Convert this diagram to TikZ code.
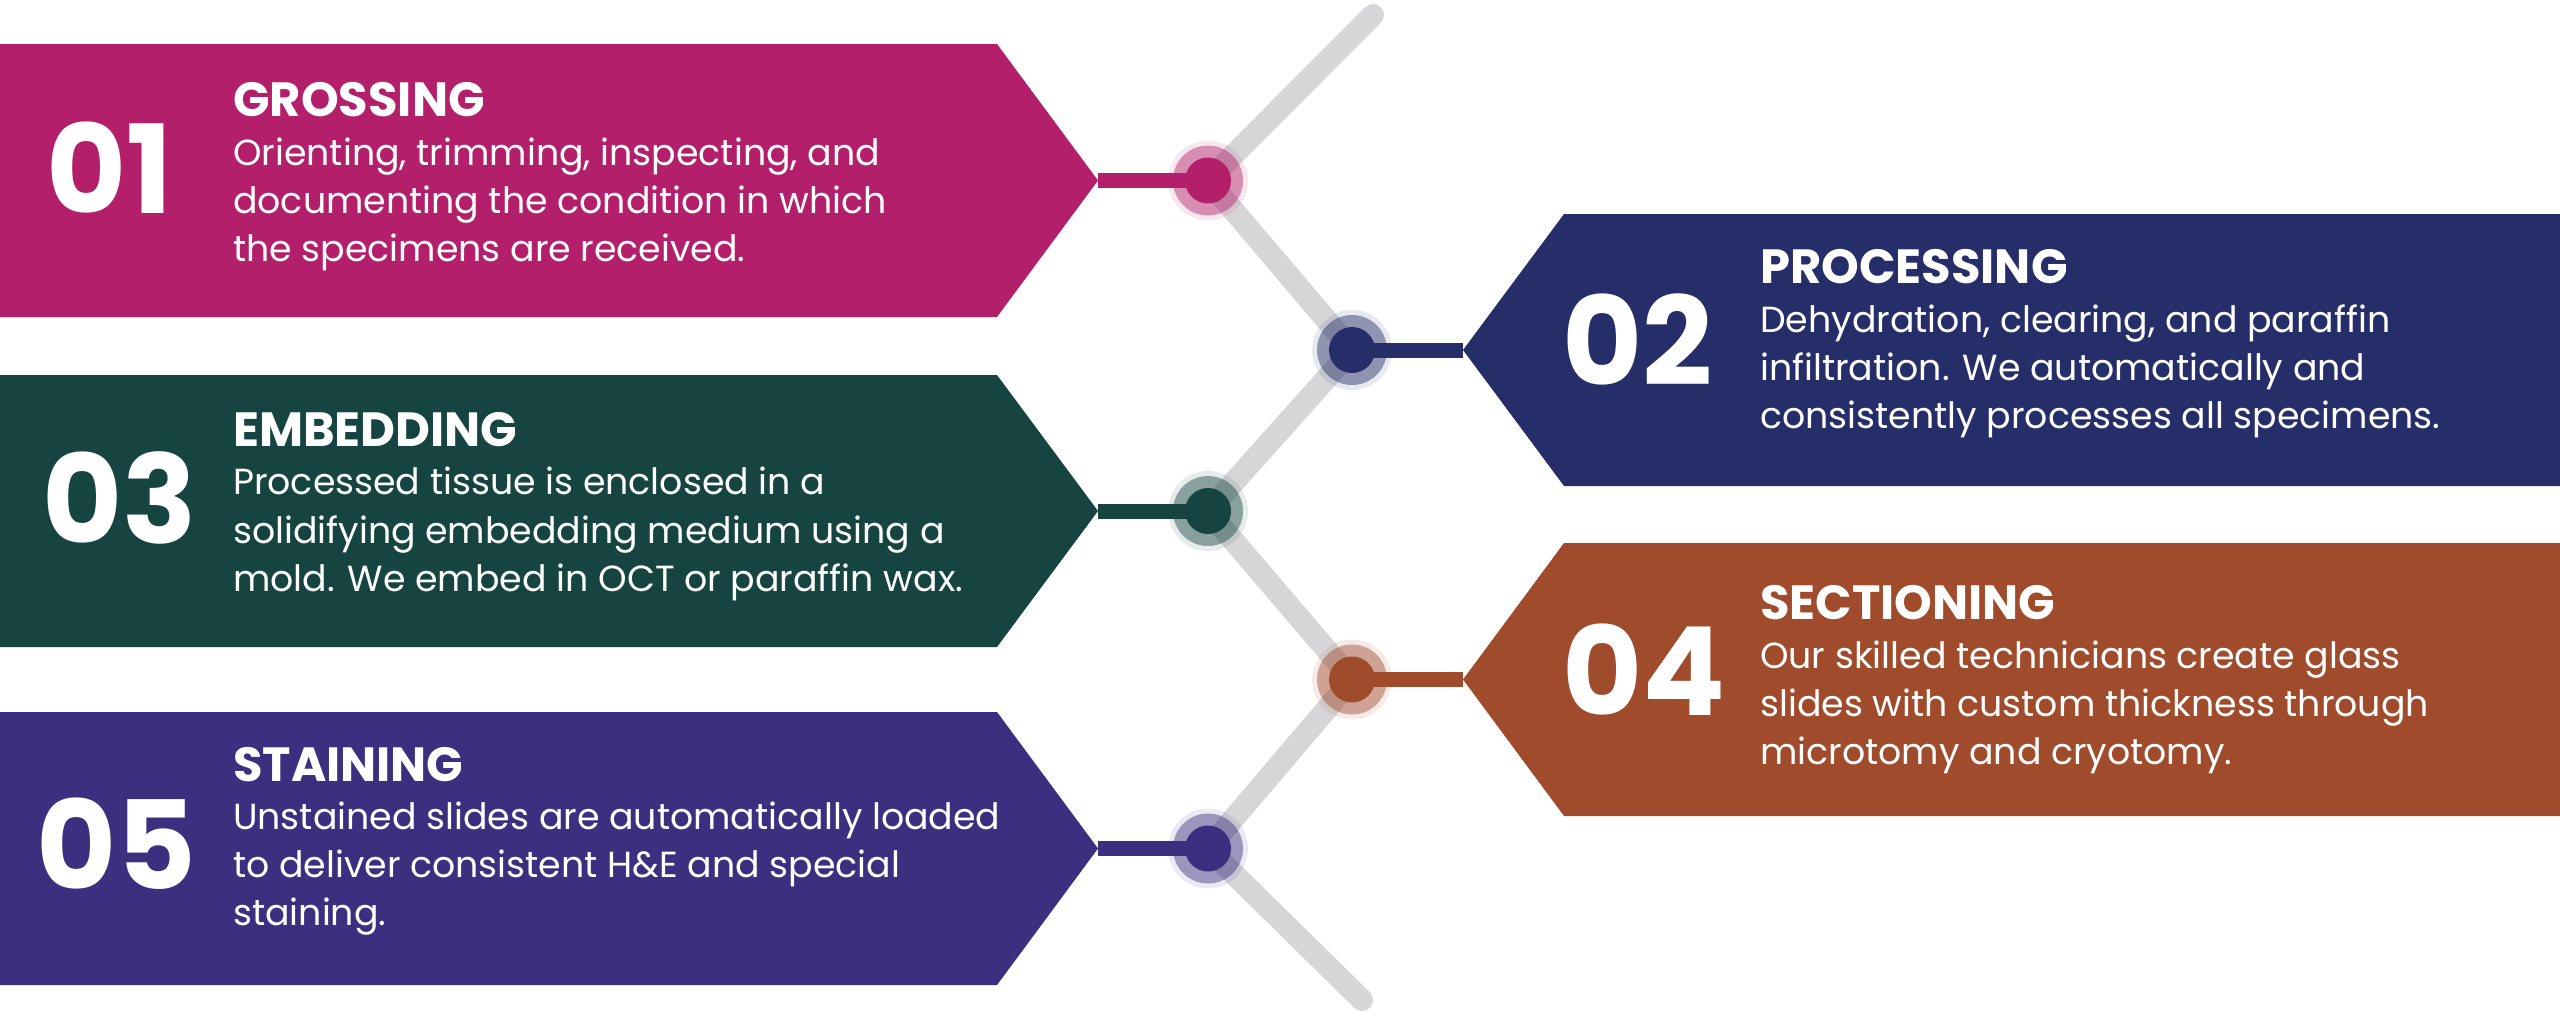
\documentclass[tikz,border=0pt]{standalone}
\usepackage{fontspec}
\setmainfont{Poppins}
\definecolor{cA}{HTML}{B31F6B}
\definecolor{cB}{HTML}{262E6A}
\definecolor{cC}{HTML}{164541}
\definecolor{cD}{HTML}{A04B2B}
\definecolor{cE}{HTML}{3C2F7F}
\definecolor{zig}{HTML}{D6D6D8}
\tikzset{
  numtxt/.style={anchor=base west, inner sep=0pt, text=white, font=\bfseries\fontsize{123}{123}\selectfont},
  ttltxt/.style={anchor=base west, inner sep=0pt, text=white, font=\bfseries\fontsize{48}{48}\selectfont},
  bodytxt/.style={anchor=base west, inner sep=0pt, text=white, font=\fontsize{36.3}{36.3}\selectfont},
  zigline/.style={draw=zig, line width=22pt, line cap=round, line join=round},
  conn/.style={line width=15pt},
  dotnode/.style={circle, inner sep=0pt, minimum size=46pt},
}
\begin{document}
\begin{tikzpicture}[x=1pt,y=-1pt]
\useasboundingbox (0,0) rectangle (2560,1018);
\fill[white] (0,0) rectangle (2560,1018);
% circle centres
\coordinate (c1) at (1208,180.5);
\coordinate (c2) at (1352,350);
\coordinate (c3) at (1208,511);
\coordinate (c4) at (1352,679.5);
\coordinate (c5) at (1208,848.5);
\coordinate (ztop) at (1373,15);
\coordinate (zbot) at (1362,1000);
% box tips
\coordinate (p1) at (1098,180.5);
\coordinate (p2) at (1463,350);
\coordinate (p3) at (1098,511);
\coordinate (p4) at (1463,679.5);
\coordinate (p5) at (1098,848.5);
% boxes
\fill[cA] (0,44) -- (997,44) -- (p1) -- (997,317) -- (0,317) -- cycle;
\fill[cB] (2560,214) -- (1564,214) -- (p2) -- (1564,486) -- (2560,486) -- cycle;
\fill[cC] (0,375) -- (997,375) -- (p3) -- (997,647) -- (0,647) -- cycle;
\fill[cD] (2560,543) -- (1564,543) -- (p4) -- (1564,816) -- (2560,816) -- cycle;
\fill[cE] (0,712) -- (997,712) -- (p5) -- (997,985) -- (0,985) -- cycle;
% zigzag
\draw[zigline] (ztop) -- (c1) -- (c2) -- (c3) -- (c4) -- (c5) -- (zbot);
% halos
\foreach \c/\col in {c1/cA,c2/cB,c3/cC,c4/cD,c5/cE}{
  \fill[\col, opacity=0.10] (\c) circle (40);
  \fill[\col, opacity=0.45] (\c) circle (35);
}
% dots
\node[dotnode, fill=cA] (d1) at (c1) {};
\node[dotnode, fill=cB] (d2) at (c2) {};
\node[dotnode, fill=cC] (d3) at (c3) {};
\node[dotnode, fill=cD] (d4) at (c4) {};
\node[dotnode, fill=cE] (d5) at (c5) {};
% connectors
\draw[conn, cA] (p1) -- (d1.center);
\draw[conn, cB] (p2) -- (d2.center);
\draw[conn, cC] (p3) -- (d3.center);
\draw[conn, cD] (p4) -- (d4.center);
\draw[conn, cE] (p5) -- (d5.center);
% box 1
\node[numtxt] (n1) at (46,213) {01};
\node[ttltxt] (h1) at (233,116) {GROSSING};
\node[bodytxt] (b1a) at (233,165) {Orienting, trimming, inspecting, and};
\node[bodytxt] (b1b) at (233,213) {documenting the condition in which};
\node[bodytxt] (b1c) at (233,261) {the specimens are received.};
% box 2
\node[numtxt] (n2) at (1562,385) {02};
\node[ttltxt] (h2) at (1760,283) {PROCESSING};
\node[bodytxt] (b2a) at (1760,332) {Dehydration, clearing, and paraffin};
\node[bodytxt] (b2b) at (1760,380) {infiltration. We automatically and};
\node[bodytxt] (b2c) at (1760,428) {consistently processes all specimens.};
% box 3
\node[numtxt] (n3) at (42,543) {03};
\node[ttltxt] (h3) at (233,446) {EMBEDDING};
\node[bodytxt] (b3a) at (233,494) {Processed tissue is enclosed in a};
\node[bodytxt] (b3b) at (233,543) {solidifying embedding medium using a};
\node[bodytxt] (b3c) at (233,591) {mold. We embed in OCT or paraffin wax.};
% box 4
\node[numtxt] (n4) at (1562,715) {04};
\node[ttltxt] (h4) at (1760,619) {SECTIONING};
\node[bodytxt] (b4a) at (1760,668) {Our skilled technicians create glass};
\node[bodytxt] (b4b) at (1760,716) {slides with custom thickness through};
\node[bodytxt] (b4c) at (1760,764) {microtomy and cryotomy.};
% box 5
\node[numtxt] (n5) at (36,889) {05};
\node[ttltxt] (h5) at (233,781) {STAINING};
\node[bodytxt] (b5a) at (233,829) {Unstained slides are automatically loaded};
\node[bodytxt] (b5b) at (233,877) {to deliver consistent H\&E and special};
\node[bodytxt] (b5c) at (233,925) {staining.};
\end{tikzpicture}
\end{document}
